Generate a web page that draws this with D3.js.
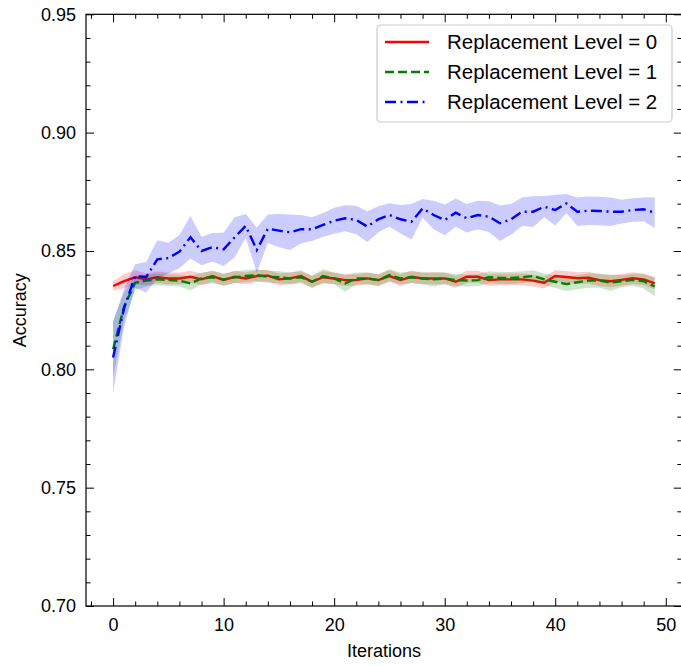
<!DOCTYPE html>
<html>
<head>
<meta charset="utf-8">
<script src="https://cdn.jsdelivr.net/npm/d3@7"></script>
<style>
  body { margin: 0; background: #fff; }
  svg { display: block; font-family: "Liberation Sans", Arial, sans-serif; }
</style>
</head>
<body>
<svg id="chart" width="681" height="666"></svg>
<script>
// mean accuracy per iteration for each replacement level
const level0_mean = [0.8352, 0.8373, 0.8389, 0.8380, 0.8389, 0.8384, 0.8384, 0.8391, 0.8380, 0.8394,
    0.8377, 0.8391, 0.8384, 0.8394, 0.8396, 0.8380, 0.8384, 0.8394, 0.8370, 0.8389,
    0.8384, 0.8377, 0.8377, 0.8384, 0.8377, 0.8394, 0.8377, 0.8391, 0.8384, 0.8384,
    0.8384, 0.8370, 0.8391, 0.8391, 0.8377, 0.8380, 0.8380, 0.8380, 0.8375, 0.8366,
    0.8394, 0.8390, 0.8385, 0.8387, 0.8377, 0.8372, 0.8378, 0.8385, 0.8380, 0.8363]
const level0_std = [0.0020, 0.0030, 0.0030, 0.0025, 0.0025, 0.0025, 0.0025, 0.0025, 0.0025, 0.0025,
    0.0025, 0.0025, 0.0025, 0.0025, 0.0025, 0.0025, 0.0025, 0.0025, 0.0025, 0.0025,
    0.0025, 0.0025, 0.0025, 0.0025, 0.0025, 0.0025, 0.0025, 0.0025, 0.0025, 0.0025,
    0.0025, 0.0025, 0.0025, 0.0025, 0.0025, 0.0025, 0.0025, 0.0025, 0.0025, 0.0025,
    0.0025, 0.0025, 0.0025, 0.0025, 0.0025, 0.0025, 0.0025, 0.0025, 0.0025, 0.0025]

const level1_mean = [0.8085, 0.8265, 0.8366, 0.8375, 0.8380, 0.8377, 0.8375, 0.8363, 0.8384, 0.8389,
    0.8380, 0.8389, 0.8394, 0.8398, 0.8391, 0.8389, 0.8384, 0.8389, 0.8370, 0.8394,
    0.8384, 0.8363, 0.8384, 0.8384, 0.8377, 0.8398, 0.8384, 0.8389, 0.8384, 0.8380,
    0.8384, 0.8377, 0.8375, 0.8377, 0.8389, 0.8386, 0.8386, 0.8389, 0.8394, 0.8380,
    0.8370, 0.8360, 0.8368, 0.8375, 0.8375, 0.8366, 0.8372, 0.8378, 0.8372, 0.8350]
const level1_std = [0.0120, 0.0060, 0.0030, 0.0025, 0.0025, 0.0025, 0.0025, 0.0030, 0.0025, 0.0025,
    0.0025, 0.0025, 0.0025, 0.0025, 0.0025, 0.0025, 0.0025, 0.0025, 0.0025, 0.0030,
    0.0025, 0.0035, 0.0025, 0.0025, 0.0025, 0.0025, 0.0025, 0.0025, 0.0025, 0.0030,
    0.0025, 0.0025, 0.0025, 0.0025, 0.0025, 0.0025, 0.0025, 0.0025, 0.0025, 0.0025,
    0.0025, 0.0030, 0.0030, 0.0030, 0.0030, 0.0035, 0.0025, 0.0025, 0.0030, 0.0040]

const level2_mean = [0.8050, 0.8260, 0.8394, 0.8390, 0.8465, 0.8470, 0.8497, 0.8558, 0.8500, 0.8516,
    0.8507, 0.8558, 0.8606, 0.8504, 0.8594, 0.8586, 0.8579, 0.8592, 0.8592, 0.8610,
    0.8628, 0.8638, 0.8631, 0.8603, 0.8634, 0.8652, 0.8634, 0.8624, 0.8680, 0.8652,
    0.8631, 0.8662, 0.8638, 0.8652, 0.8645, 0.8617, 0.8634, 0.8666, 0.8666, 0.8687,
    0.8673, 0.8701, 0.8666, 0.8670, 0.8669, 0.8666, 0.8666, 0.8673, 0.8676, 0.8662]
const level2_std = [0.0150, 0.0080, 0.0050, 0.0065, 0.0080, 0.0065, 0.0070, 0.0090, 0.0060, 0.0060,
    0.0070, 0.0085, 0.0050, 0.0095, 0.0060, 0.0070, 0.0075, 0.0060, 0.0050, 0.0050,
    0.0055, 0.0055, 0.0060, 0.0065, 0.0055, 0.0050, 0.0060, 0.0075, 0.0040, 0.0060,
    0.0065, 0.0060, 0.0060, 0.0060, 0.0065, 0.0075, 0.0065, 0.0060, 0.0065, 0.0045,
    0.0065, 0.0040, 0.0060, 0.0060, 0.0060, 0.0060, 0.0050, 0.0050, 0.0050, 0.0065]

const level_labels = ["Replacement Level = 0", "Replacement Level = 1", "Replacement Level = 2"]
const x_ticks = [0, 10, 20, 30, 40, 50]
const y_ticks = [0.70, 0.75, 0.80, 0.85, 0.90, 0.95]

const series = [
    {label: level_labels[0], mean: level0_mean, std: level0_std, color: "#ff0000", dash: null},
    {label: level_labels[1], mean: level1_mean, std: level1_std, color: "#008000", dash: "9,4"},
    {label: level_labels[2], mean: level2_mean, std: level2_std, color: "#0000ff", dash: "11,4.5,2,4.5"},
]

const svg = d3.select("svg#chart");
const margin = {top: 14.3, left: 86, right: -0.8, bottom: 60};
const svg_width = 681, svg_height = 666;
const plot_bottom = 606;

const x = d3.scaleLinear().domain([-2.45, 51.45]).range([margin.left, svg_width - margin.right]);
const y = d3.scaleLinear().domain([0.70, 0.95]).range([plot_bottom, margin.top]);

const MAJOR = 8, MINOR = 4.5;
const x_minor = d3.range(-2, 52, 2).filter(v => v % 10 != 0);
const y_minor = d3.range(70, 96, 1).filter(v => v % 5 != 0).map(v => v / 100);

// axes, ticks pointing inward on every side
const tickFont = 18;
svg.append("g")
    .attr("transform", "translate(0," + plot_bottom + ")")
    .call(d3.axisBottom(x).tickValues(x_ticks).tickSizeInner(-MAJOR).tickSizeOuter(0).tickPadding(12).tickFormat(d3.format("d")))
    .call(g => g.select(".domain").remove());
svg.append("g")
    .attr("transform", "translate(0," + plot_bottom + ")")
    .call(d3.axisBottom(x).tickValues(x_minor).tickSizeInner(-MINOR).tickSizeOuter(0).tickFormat(""))
    .call(g => g.select(".domain").remove());
svg.append("g")
    .attr("transform", "translate(0," + margin.top + ")")
    .call(d3.axisTop(x).tickValues(x_ticks).tickSizeInner(-MAJOR).tickSizeOuter(0).tickFormat(""))
    .call(g => g.select(".domain").remove());
svg.append("g")
    .attr("transform", "translate(0," + margin.top + ")")
    .call(d3.axisTop(x).tickValues(x_minor).tickSizeInner(-MINOR).tickSizeOuter(0).tickFormat(""))
    .call(g => g.select(".domain").remove());

svg.append("g")
    .attr("transform", "translate(" + margin.left + ",0)")
    .call(d3.axisLeft(y).tickValues(y_ticks).tickSizeInner(-MAJOR).tickSizeOuter(0).tickPadding(10).tickFormat(d3.format(".2f")))
    .call(g => g.select(".domain").remove());
svg.append("g")
    .attr("transform", "translate(" + margin.left + ",0)")
    .call(d3.axisLeft(y).tickValues(y_minor).tickSizeInner(-MINOR).tickSizeOuter(0).tickFormat(""))
    .call(g => g.select(".domain").remove());
svg.append("g")
    .attr("transform", "translate(" + x.range()[1] + ",0)")
    .call(d3.axisRight(y).tickValues(y_ticks).tickSizeInner(-MAJOR).tickSizeOuter(0).tickFormat(""))
    .call(g => g.select(".domain").remove());
svg.append("g")
    .attr("transform", "translate(" + x.range()[1] + ",0)")
    .call(d3.axisRight(y).tickValues(y_minor).tickSizeInner(-MINOR).tickSizeOuter(0).tickFormat(""))
    .call(g => g.select(".domain").remove());

svg.selectAll(".tick text")
    .attr("font-size", tickFont)
    .attr("font-family", "Liberation Sans, Arial, sans-serif")
    .attr("fill", "#000");
svg.selectAll(".tick line").attr("stroke", "#000").attr("stroke-width", 1);

// curves + std bands
const plot = svg.append("g");
const line = d3.line().x((d, i) => x(i)).y(d => y(d));

series.forEach(function(s) {
    const idx = d3.range(s.mean.length);
    plot.append("path")
        .attr("fill", "none")
        .attr("stroke", s.color)
        .attr("stroke-width", 2.4)
        .attr("stroke-dasharray", s.dash)
        .attr("d", line(s.mean));
    const area = d3.area()
        .x(i => x(i))
        .y0(i => y(s.mean[i] - s.std[i]))
        .y1(i => y(s.mean[i] + s.std[i]));
    plot.append("path")
        .attr("fill", s.color)
        .attr("fill-opacity", 0.2)
        .attr("stroke", "none")
        .attr("d", area(idx));
});

// frame
svg.append("rect")
    .attr("x", margin.left)
    .attr("y", margin.top)
    .attr("width", x.range()[1] - margin.left)
    .attr("height", plot_bottom - margin.top)
    .attr("fill", "none")
    .attr("stroke", "#000")
    .attr("stroke-width", 1.2);

// axis titles
svg.append("text")
    .attr("x", (margin.left + x.range()[1]) / 2)
    .attr("y", 657)
    .attr("text-anchor", "middle")
    .attr("font-size", 18)
    .text("Iterations");
svg.append("text")
    .attr("transform", "translate(26," + (margin.top + plot_bottom) / 2 + ") rotate(-90)")
    .attr("text-anchor", "middle")
    .attr("font-size", 18)
    .text("Accuracy");

// legend
const legend = svg.append("g").attr("transform", "translate(377,25)");
legend.append("rect")
    .attr("width", 295)
    .attr("height", 97)
    .attr("rx", 4)
    .attr("fill", "#fff")
    .attr("fill-opacity", 0.8)
    .attr("stroke", "#cccccc")
    .attr("stroke-width", 1.2);
series.forEach(function(s, i) {
    const row = legend.append("g").attr("transform", "translate(0," + (17 + i * 30) + ")");
    row.append("line")
        .attr("x1", 8).attr("x2", 52)
        .attr("stroke", s.color)
        .attr("stroke-width", 2.4)
        .attr("stroke-dasharray", s.dash);
    row.append("text")
        .attr("x", 70)
        .attr("dy", "0.36em")
        .attr("font-size", 20.5)
        .text(s.label);
});
</script>
</body>
</html>
